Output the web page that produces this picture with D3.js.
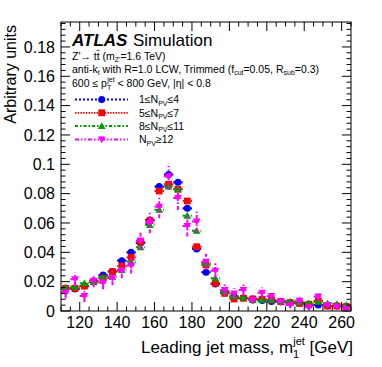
<!DOCTYPE html>
<html><head><meta charset="utf-8">
<script src="https://cdn.jsdelivr.net/npm/d3@7"></script>
<style>body{margin:0;background:#fff}svg text{font-family:"Liberation Sans",Arial,sans-serif;fill:#000}</style>
</head><body><svg id="c" width="382" height="367"></svg>
<script>
const binCenters=[112.5,117.5,122.5,127.5,132.5,137.5,142.5,147.5,152.5,157.5,162.5,167.5,172.5,177.5,182.5,187.5,192.5,197.5,202.5,207.5,212.5,217.5,222.5,227.5,232.5,237.5,242.5,247.5,252.5,257.5,262.5];
const npv1_4=[0.0155,0.0150,0.0170,0.0205,0.0245,0.0270,0.0343,0.0400,0.0465,0.0620,0.0848,0.0930,0.0877,0.0700,0.0423,0.0264,0.0184,0.0132,0.0098,0.0088,0.0082,0.0072,0.0064,0.0066,0.0057,0.0052,0.0040,0.0041,0.0034,0.0034,0.0033];
const npv5_7=[0.0155,0.0155,0.0170,0.0200,0.0223,0.0268,0.0307,0.0366,0.0470,0.0616,0.0818,0.0864,0.0830,0.0750,0.0438,0.0314,0.0189,0.0120,0.0082,0.0087,0.0082,0.0080,0.0075,0.0064,0.0057,0.0052,0.0046,0.0068,0.0034,0.0034,0.0030];
const npv8_11=[0.0159,0.0166,0.0189,0.0198,0.0230,0.0234,0.0280,0.0336,0.0434,0.0586,0.0690,0.0848,0.0830,0.0650,0.0547,0.0325,0.0223,0.0132,0.0098,0.0091,0.0075,0.0075,0.0075,0.0066,0.0064,0.0060,0.0052,0.0063,0.0052,0.0048,0.0041];
const npv12=[0.0125,0.0216,0.0102,0.0207,0.0193,0.0223,0.0275,0.0310,0.0480,0.0600,0.0710,0.0916,0.0770,0.0580,0.0610,0.0336,0.0275,0.0143,0.0120,0.0143,0.0075,0.0125,0.0102,0.0064,0.0041,0.0070,0.0025,0.0098,0.0041,0.0030,0.0018];
const errSmall=[0.0010,0.0010,0.0010,0.0011,0.0012,0.0012,0.0013,0.0014,0.0015,0.0017,0.0019,0.0020,0.0019,0.0017,0.0014,0.0012,0.0010,0.0009,0.0008,0.0008,0.0008,0.0007,0.0007,0.0007,0.0007,0.0006,0.0006,0.0006,0.0006,0.0006,0.0005];
const errLarge=[0.0040,0.0045,0.0040,0.0045,0.0045,0.0048,0.0052,0.0055,0.0062,0.0070,0.0078,0.0090,0.0082,0.0072,0.0072,0.0055,0.0050,0.0038,0.0035,0.0038,0.0028,0.0035,0.0032,0.0026,0.0022,0.0027,0.0018,0.0032,0.0020,0.0018,0.0015];
const xTicks=[120,140,160,180,200,220,240,260];
const yTicks=[0,0.02,0.04,0.06,0.08,0.1,0.12,0.14,0.16,0.18];
const binWidth=5;

const svg=d3.select("#c");
const L=61,R=351,T=22,B=311;
const x=d3.scaleLinear().domain([110,265]).range([L,R]);
const y=d3.scaleLinear().domain([0,0.197]).range([B,T]);

const series=[
 {name:"1≤N|PV|≤4",vals:npv1_4,err:errSmall,color:"#0000ff",dash:"2,2",marker:"circle",lw:2.2},
 {name:"5≤N|PV|≤7",vals:npv5_7,err:errSmall,color:"#ff0000",dash:"1.5,1.2",marker:"square",lw:1.8},
 {name:"8≤N|PV|≤11",vals:npv8_11,err:errSmall,color:"#009900",dash:"3,2,1.5,2",marker:"tri",lw:2},
 {name:"N|PV|≥12",vals:npv12,err:errLarge,color:"#ff00ff",dash:"4,2,1.5,2,1.5,2",marker:"tridown",lw:2}
];

function marker(g,type,cx,cy,color){
  if(type==="circle") g.append("circle").attr("cx",cx).attr("cy",cy).attr("r",3.5).attr("fill",color);
  else if(type==="square") g.append("rect").attr("x",cx-3.4).attr("y",cy-3.4).attr("width",6.8).attr("height",6.8).attr("fill",color);
  else if(type==="tri") g.append("path").attr("d",`M${cx},${cy-3.8}L${cx+3.8},${cy+3}L${cx-3.8},${cy+3}Z`).attr("fill",color);
  else g.append("path").attr("d",`M${cx},${cy+3.8}L${cx+3.8},${cy-3}L${cx-3.8},${cy-3}Z`).attr("fill",color);
}

const plot=svg.append("g");
series.forEach(s=>{
  const g=plot.append("g");
  binCenters.forEach((c,i)=>{
    const v=s.vals[i],e=s.err[i];
    g.append("line").attr("x1",x(c-binWidth/2)).attr("x2",x(c+binWidth/2)).attr("y1",y(v)).attr("y2",y(v))
      .attr("stroke",s.color).attr("stroke-width",s.lw).attr("stroke-dasharray",s.dash);
    g.append("line").attr("x1",x(c)).attr("x2",x(c)).attr("y1",y(v-e)).attr("y2",y(v+e))
      .attr("stroke",s.color).attr("stroke-width",s.lw).attr("stroke-dasharray",s.dash);
  });
  binCenters.forEach((c,i)=>marker(g,s.marker,x(c),y(s.vals[i]),s.color));
});

// frame and axes
svg.append("rect").attr("x",L).attr("y",T).attr("width",R-L).attr("height",B-T).attr("fill","none").attr("stroke","#000").attr("stroke-width",1);
const ax=svg.append("g").attr("stroke","#000").attr("stroke-width",1);
const xMinor=d3.range(110,266,5);
xMinor.forEach(v=>{const major=v%20===0;const len=major?9:4.5;const px=x(v);
  ax.append("line").attr("x1",px).attr("x2",px).attr("y1",B).attr("y2",B-len);
  ax.append("line").attr("x1",px).attr("x2",px).attr("y1",T).attr("y2",T+len);});
const yMinor=d3.range(0,0.1961,0.004);
yMinor.forEach((v,i)=>{const major=i%5===0;const len=major?9:4.5;const py=y(v);
  ax.append("line").attr("x1",L).attr("x2",L+len).attr("y1",py).attr("y2",py);
  ax.append("line").attr("x1",R).attr("x2",R-len).attr("y1",py).attr("y2",py);});

svg.append("g").selectAll("text").data(xTicks).join("text").attr("x",d=>x(d)).attr("y",328)
  .attr("text-anchor","middle").attr("font-size",16).text(d=>d);
svg.append("g").selectAll("text").data(yTicks).join("text").attr("x",55).attr("y",d=>y(d)+5.7)
  .attr("text-anchor","end").attr("font-size",16).text(d=>d===0?"0":String(+d.toFixed(2)));

// axis titles
const xt=svg.append("text").attr("x",353).attr("y",353).attr("text-anchor","end").attr("font-size",17);
xt.append("tspan").text("Leading jet mass, m");
xt.append("tspan").attr("font-size",11).attr("dy",5).text("1");
xt.append("tspan").attr("font-size",11).attr("dx",-6).attr("dy",-13).text("jet");
xt.append("tspan").attr("dy",8).text(" [GeV]");
svg.append("text").attr("transform","translate(16,25) rotate(-90)").attr("text-anchor","end").attr("font-size",16).text("Arbitrary units");

// labels
svg.append("text").attr("x",72).attr("y",46).attr("font-size",17).attr("font-weight","bold").attr("font-style","italic").text("ATLAS");
svg.append("text").attr("x",133).attr("y",46).attr("font-size",17).text("Simulation");
const fs=10.5, ss=7;
const t2=svg.append("text").attr("x",72).attr("y",59.5).attr("font-size",fs);
t2.append("tspan").text("Z'→ tt̄ (m");
t2.append("tspan").attr("font-size",ss).attr("dy",2.5).text("Z'");
t2.append("tspan").attr("dy",-2.5).text("=1.6 TeV)");
const t3=svg.append("text").attr("x",72).attr("y",72.5).attr("font-size",fs);
t3.append("tspan").text("anti-k");
t3.append("tspan").attr("font-size",ss).attr("dy",2.5).text("t");
t3.append("tspan").attr("dy",-2.5).text(" with R=1.0 LCW, Trimmed (f");
t3.append("tspan").attr("font-size",ss).attr("dy",2.5).text("cut");
t3.append("tspan").attr("dy",-2.5).text("=0.05, R");
t3.append("tspan").attr("font-size",ss).attr("dy",2.5).text("sub");
t3.append("tspan").attr("dy",-2.5).text("=0.3)");
const t4=svg.append("text").attr("x",72).attr("y",87).attr("font-size",fs);
t4.append("tspan").text("600 ≤ p");
t4.append("tspan").attr("font-size",ss).attr("dy",2.5).text("T");
t4.append("tspan").attr("font-size",ss).attr("dx",-4).attr("dy",-7.5).text("jet");
t4.append("tspan").attr("dy",5).text(" < 800 GeV, |η| < 0.8");

// legend
const legY=[99.5,112.8,126.1,139.4];
series.forEach((s,i)=>{
  const g=svg.append("g");
  g.append("line").attr("x1",75).attr("x2",128).attr("y1",legY[i]).attr("y2",legY[i]).attr("stroke",s.color).attr("stroke-width",s.lw).attr("stroke-dasharray",s.dash);
  marker(g,s.marker,101.7,legY[i],s.color);
  const parts=s.name.split("|");
  const t=g.append("text").attr("x",139).attr("y",legY[i]+3.7).attr("font-size",fs);
  t.append("tspan").text(parts[0]);
  t.append("tspan").attr("font-size",ss).attr("dy",2.5).text(parts[1]);
  t.append("tspan").attr("dy",-2.5).text(parts[2]);
});
</script></body></html>
